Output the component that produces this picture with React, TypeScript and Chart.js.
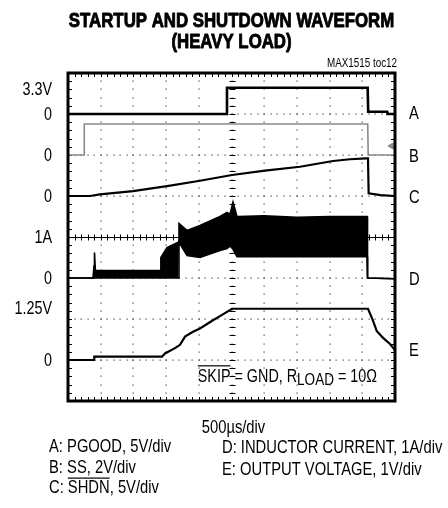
import React, { useEffect, useRef } from "react";
import { Chart, registerables } from "chart.js";
Chart.register(...registerables);

const FONT = "'Liberation Sans', Arial, sans-serif";
const NARROW = 0.82; // horizontal squeeze to imitate a condensed face

// ---- screen: 10 div x 500 µs, 8 vertical divisions ----
const timeMin = 0;
const timeMax = 5000;
const divTime = 500;
const divCount = 8;

// ---- channel scale (units/div) and zero level (division from bottom) ----
const scaleA = 5, zeroA = 7;   // PGOOD, 5V/div
const scaleB = 2, zeroB = 6;   // SS, 2V/div
const scaleC = 5, zeroC = 5;   // SHDN, 5V/div
const scaleD = 1, zeroD = 3;   // inductor current, 1A/div
const scaleE = 1, zeroE = 1;   // output voltage, 1V/div

// ---- A: PGOOD (V) ----
const aTime = [0, 2427, 2431, 4582, 4590, 4880, 4886, 5000];
const aVolts = [0, 0, 3.2, 3.2, 0.28, 0.28, 0, 0];

// ---- B: SS (V) ----
const bTime = [0, 245, 249, 4583, 4590, 5000];
const bVolts = [0, 0, 1.51, 1.51, 0, 0];
const bMarkerTime = [4945];
const bMarkerVolts = [0.44];

// ---- C: SHDN (V) ----
const cTime = [0, 336, 489, 994, 1514, 2018, 2508, 3012, 3547, 4052, 4312, 4557, 4587, 4597, 4780, 5000];
const cVolts = [0, 0, 0.2, 0.6, 1.2, 1.86, 2.56, 3.1, 3.57, 4.27, 4.48, 4.6, 4.6, 0.33, 0.1, 0];

// ---- D: inductor current (A), upper / lower envelope of the switching band ----
const dTime = [0, 382, 398, 405, 420, 430, 1407, 1420, 1514, 1682, 1697, 1820, 2018, 2324, 2431, 2477, 2523, 2584, 3000, 3500, 4000, 4572, 4580, 5000];
const dUpper = [0, 0, 0.3, 0.62, 0.15, 0.18, 0.18, 0.5, 0.74, 0.87, 1.33, 1.16, 1.28, 1.5, 1.6, 1.55, 1.85, 1.5, 1.52, 1.48, 1.5, 1.5, 0, -0.02];
const dLower = [0, 0, 0, 0, 0, 0, 0, 0, 0, 0, 0.87, 0.55, 0.5, 0.67, 0.72, 0.78, 0.7, 0.52, 0.52, 0.52, 0.52, 0.52, 0, -0.02];

// ---- E: output voltage (V) ----
const eTime = [0, 398, 402, 1437, 1483, 1636, 1713, 1789, 1911, 2018, 2217, 2324, 2508, 4587, 4656, 4720, 4817, 4924, 5000];
const eVolts = [0, 0, 0.08, 0.08, 0.16, 0.29, 0.37, 0.57, 0.69, 0.77, 0.97, 1.07, 1.25, 1.25, 0.99, 0.71, 0.54, 0.39, 0.24];

// ---- tick labels ----
const leftTickDivs = [7.6, 7, 6, 5, 4, 3, 2.27, 1];
const leftTickLabels = ["3.3V", "0", "0", "0", "1A", "0", "1.25V", "0"];
const rightTickDivs = [7.02, 5.97, 4.98, 2.97, 1.24];
const rightTickLabels = ["A", "B", "C", "D", "E"];

// ---- texts ----
const titleLines = ["STARTUP AND SHUTDOWN WAVEFORM", "(HEAVY LOAD)"];
const figureId = "MAX1515 toc12";
const xAxisLabel = "500\u00B5s/div";
const legendLeft = [
  [{ t: "A: PGOOD, 5V/div" }],
  [{ t: "B: SS, 2V/div" }],
  [{ t: "C: " }, { t: "SHDN", over: true }, { t: ", 5V/div" }],
];
const legendRight = [
  [{ t: "D: INDUCTOR CURRENT, 1A/div" }],
  [{ t: "E: OUTPUT VOLTAGE, 1V/div" }],
];

const toPoints = (time: number[], vals: number[], scale: number, zero: number) =>
  time.map((t, i) => ({ x: t, y: zero + vals[i] / scale }));

// draw condensed text; returns drawn width
function narrowText(ctx: CanvasRenderingContext2D, text: string, x: number, y: number, align: string = "left", heavy: number = 0) {
  const w = ctx.measureText(text).width * NARROW;
  let left = x;
  if (align === "center") left = x - w / 2;
  else if (align === "right") left = x - w;
  ctx.save();
  ctx.textAlign = "left";
  ctx.translate(left, y);
  ctx.scale(NARROW, 1);
  ctx.fillText(text, 0, 0);
  if (heavy > 0) {
    ctx.lineWidth = heavy;
    ctx.strokeStyle = ctx.fillStyle as string;
    ctx.lineJoin = "round";
    ctx.strokeText(text, 0, 0);
  }
  ctx.restore();
  return w;
}

function drawSegments(ctx: CanvasRenderingContext2D, segs: any[], x: number, y: number, fontPx: number) {
  let cx = x;
  for (const s of segs) {
    const w = narrowText(ctx, s.t, cx, y);
    if (s.over) ctx.fillRect(cx, y - fontPx * 0.86, w, 1.2);
    cx += w;
  }
}

const gridPlugin = {
  id: "scopeGrid",
  beforeDatasetsDraw(chart: any) {
    const { ctx, chartArea } = chart;
    const xs = chart.scales.x;
    const ys = chart.scales.y;
    ctx.save();
    ctx.fillStyle = "#444";
    const minorT = divTime / 5;
    for (let k = 1; k < divCount; k++) {
      if (k === 4) continue;
      const y = ys.getPixelForValue(k);
      for (let t = timeMin + minorT; t < timeMax; t += minorT) {
        const x = xs.getPixelForValue(t);
        ctx.fillRect(Math.round(x) - 0.5, Math.round(y) - 0.5, 1.2, 1.2);
      }
    }
    for (let t = divTime; t < timeMax; t += divTime) {
      const x = xs.getPixelForValue(t);
      for (let v = 0.2; v < divCount; v += 0.2) {
        const y = ys.getPixelForValue(v);
        ctx.fillRect(Math.round(x) - 0.5, Math.round(y) - 0.5, 1.2, 1.2);
      }
    }
    ctx.strokeStyle = "#000";
    ctx.lineWidth = 1;
    const yc = Math.round(ys.getPixelForValue(4)) + 0.5;
    ctx.beginPath();
    ctx.moveTo(chartArea.left, yc);
    ctx.lineTo(chartArea.right, yc);
    for (let t = timeMin + minorT; t < timeMax; t += minorT) {
      const x = Math.round(xs.getPixelForValue(t)) + 0.5;
      ctx.moveTo(x, yc - 3);
      ctx.lineTo(x, yc + 3);
    }
    const xc = Math.round(xs.getPixelForValue(2500)) + 0.5;
    for (let v = 0.2; v < divCount; v += 0.2) {
      const y = Math.round(ys.getPixelForValue(v)) + 0.5;
      ctx.moveTo(xc - 3, y);
      ctx.lineTo(xc + 3, y);
    }
    for (let t = timeMin + minorT; t < timeMax; t += minorT) {
      const x = Math.round(xs.getPixelForValue(t)) + 0.5;
      ctx.moveTo(x, chartArea.top);
      ctx.lineTo(x, chartArea.top + 4);
      ctx.moveTo(x, chartArea.bottom);
      ctx.lineTo(x, chartArea.bottom - 4);
    }
    for (let v = 0.2; v < divCount; v += 0.2) {
      const y = Math.round(ys.getPixelForValue(v)) + 0.5;
      ctx.moveTo(chartArea.left, y);
      ctx.lineTo(chartArea.left + 4, y);
      ctx.moveTo(chartArea.right, y);
      ctx.lineTo(chartArea.right - 4, y);
    }
    ctx.stroke();
    ctx.restore();
  },
  afterDatasetsDraw(chart: any) {
    const { ctx, chartArea } = chart;
    ctx.save();
    ctx.strokeStyle = "#000";
    ctx.lineWidth = 3;
    ctx.strokeRect(chartArea.left, chartArea.top, chartArea.right - chartArea.left, chartArea.bottom - chartArea.top);
    ctx.restore();
  },
};

const textPlugin = {
  id: "scopeText",
  afterDraw(chart: any) {
    const ctx: CanvasRenderingContext2D = chart.ctx;
    const xs = chart.scales.x;
    const ys = chart.scales.y;
    const ys2 = chart.scales.y2;
    const area = chart.chartArea;
    ctx.save();
    ctx.fillStyle = "#000";
    ctx.textBaseline = "alphabetic";
    const cx = xs.getPixelForValue(2500);

    ctx.font = `bold 20.5px ${FONT}`;
    narrowText(ctx, titleLines[0], cx, 27, "center", 0.9);
    narrowText(ctx, titleLines[1], cx, 48, "center", 0.9);
    ctx.font = `12px ${FONT}`;
    narrowText(ctx, figureId, area.right + 2, 67, "right");
    ctx.font = `18px ${FONT}`;
    narrowText(ctx, xAxisLabel, cx + 2, 433, "center");

    // axis tick labels (from the scales' ticks)
    ctx.textBaseline = "middle";
    ctx.font = `17.5px ${FONT}`;
    ys.ticks.forEach((tk: any) => {
      narrowText(ctx, String(tk.label), area.left - 16, ys.getPixelForValue(tk.value) + 1, "right");
    });
    ctx.font = `18px ${FONT}`;
    ys2.ticks.forEach((tk: any) => {
      narrowText(ctx, String(tk.label), area.right + 14, ys2.getPixelForValue(tk.value) + 1, "left");
    });
    ctx.textBaseline = "alphabetic";

    // annotation inside the plot
    const baseY = ys.getPixelForValue(0.47);
    let x = xs.getPixelForValue(2000) - 1;
    ctx.font = `17.5px ${FONT}`;
    const skipW = narrowText(ctx, "SKIP", x, baseY);
    ctx.fillRect(x, baseY - 16.5, skipW, 1.2);
    x += skipW;
    x += narrowText(ctx, " = GND, R", x, baseY);
    ctx.font = `16.5px ${FONT}`;
    x += narrowText(ctx, "LOAD", x, baseY + 3.5);
    ctx.font = `17.5px ${FONT}`;
    narrowText(ctx, " = 10\u03A9", x, baseY);

    // legend
    ctx.font = `18px ${FONT}`;
    const leftBase = [452, 472.5, 493];
    legendLeft.forEach((segs, i) => drawSegments(ctx, segs, 49, leftBase[i], 18));
    const rightBase = [453, 474.5];
    legendRight.forEach((segs, i) => drawSegments(ctx, segs, 222, rightBase[i], 18));
    ctx.restore();
  },
};

export default function App() {
  const ref = useRef<HTMLCanvasElement | null>(null);
  useEffect(() => {
    if (!ref.current) return;
    const line = (data: any[], color: string, width: number, extra: any = {}) => ({
      type: "line",
      data,
      borderColor: color,
      backgroundColor: color,
      borderWidth: width,
      pointRadius: 0,
      tension: 0,
      fill: false,
      ...extra,
    });
    const axis = (position: string, width: number, divs: number[], labels: string[]) => ({
      type: "linear",
      position,
      min: 0,
      max: divCount,
      grid: { display: false, drawTicks: false },
      border: { display: false },
      afterBuildTicks: (s: any) => {
        s.ticks = divs.map((v) => ({ value: v }));
      },
      afterFit: (s: any) => {
        s.width = width;
      },
      ticks: {
        display: false,
        autoSkip: false,
        callback: (_v: any, i: number) => labels[i],
      },
    });
    const chart = new Chart(ref.current, {
      type: "line",
      data: {
        datasets: [
          line(toPoints(aTime, aVolts, scaleA, zeroA), "#000", 2.6),
          line(toPoints(bTime, bVolts, scaleB, zeroB), "#8a8a8a", 1.6),
          line(toPoints(bMarkerTime, bMarkerVolts, scaleB, zeroB), "#8a8a8a", 1, {
            showLine: false,
            pointRadius: 3.5,
            pointStyle: "triangle",
            rotation: -90,
          }),
          line(toPoints(cTime, cVolts, scaleC, zeroC), "#000", 2.2),
          line(toPoints(dTime, dUpper, scaleD, zeroD), "#000", 1.6, { fill: "+1", backgroundColor: "#000" }),
          line(toPoints(dTime, dLower, scaleD, zeroD), "#000", 1.6),
          line(toPoints(eTime, eVolts, scaleE, zeroE), "#000", 2.2),
        ] as any,
      },
      options: {
        animation: false,
        responsive: false,
        devicePixelRatio: 1,
        parsing: false as any,
        layout: { padding: { top: 73, bottom: 107, left: 0, right: 0 } },
        plugins: { legend: { display: false }, title: { display: false }, tooltip: { enabled: false } },
        scales: {
          x: { type: "linear", min: timeMin, max: timeMax, display: false },
          y: axis("left", 68, leftTickDivs, leftTickLabels),
          y2: axis("right", 53, rightTickDivs, rightTickLabels),
        },
      } as any,
      plugins: [gridPlugin, textPlugin],
    });
    return () => chart.destroy();
  }, []);
  return (
    <canvas
      ref={ref}
      width={448}
      height={508}
      style={{ position: "absolute", left: 0, top: 0, width: 448, height: 508 }}
    />
  );
}
